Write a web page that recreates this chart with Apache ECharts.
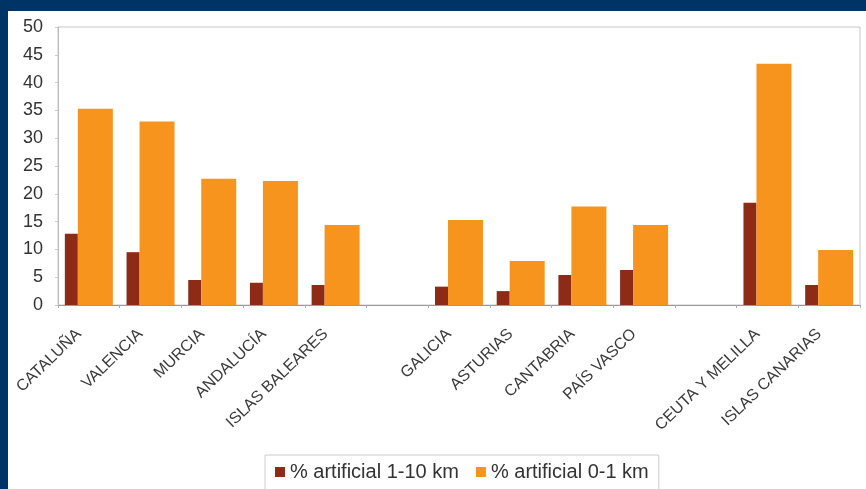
<!DOCTYPE html>
<html>
<head>
<meta charset="utf-8">
<script src="https://cdn.jsdelivr.net/npm/echarts@6/dist/echarts.min.js"></script>
<style>
    html, body { margin: 0; padding: 0; background: #003366; }
    #frame { position: absolute; left: 0; top: 0; width: 866px; height: 489px; background: #003366; }
    #chart { position: absolute; left: 8px; top: 11px; width: 858px; height: 478px; background: #fff; }
</style>
</head>
<body>
<div id="frame"><div id="chart"></div></div>
<script>
/* comunidades (huecos vacios entre grupos) */
var regiones = ['CATALUÑA', 'VALENCIA', 'MURCIA', 'ANDALUCÍA', 'ISLAS BALEARES', '',
    'GALICIA', 'ASTURIAS', 'CANTABRIA', 'PAÍS VASCO', '',
    'CEUTA Y MELILLA', 'ISLAS CANARIAS'];
var artificial1a10 = [12.8, 9.5, 4.5, 4.0, 3.6, null, 3.3, 2.5, 5.4, 6.3, null, 18.4, 3.6];
var artificial0a1 = [35.3, 33.0, 22.7, 22.3, 14.4, null, 15.3, 7.9, 17.7, 14.4, null, 43.4, 9.9];
var nombres = ['% artificial 1-10 km', '% artificial 0-1 km'];

var chart = echarts.init(document.getElementById('chart'));
chart.setOption({
    animation: false,
    textStyle: { fontFamily: 'Liberation Sans, Arial, sans-serif' },
    color: ['#8e2b17', '#f7941e'],
    legend: {
        data: nombres,
        left: 257,
        top: 444,
        padding: [7, 10, 20, 10],
        borderColor: '#cccccc',
        borderWidth: 1,
        itemWidth: 10,
        itemHeight: 10,
        itemGap: 17,
        icon: 'rect',
        textStyle: { fontSize: 20, color: '#333' }
    },
    grid: {
        left: 50,
        right: 6,
        top: 16,
        bottom: 184,
        show: true,
        borderColor: '#c8c8c8',
        borderWidth: 1
    },
    xAxis: {
        type: 'category',
        data: regiones,
        axisLine: { lineStyle: { color: '#999', width: 1 } },
        axisTick: { show: true, length: 3, lineStyle: { color: '#aaa' } },
        axisLabel: {
            interval: 0,
            rotate: 44,
            margin: 17,
            padding: [0, 14, 0, 0],
            fontSize: 16,
            color: '#3a3a3a'
        }
    },
    yAxis: {
        type: 'value',
        min: 0,
        max: 50,
        interval: 5,
        splitLine: { show: false },
        axisLine: { show: true, lineStyle: { color: '#bbb', width: 1 } },
        axisTick: { show: true, length: 3, lineStyle: { color: '#ccc' } },
        axisLabel: { fontSize: 18, color: '#333', margin: 15 }
    },
    series: [
        {
            name: nombres[0],
            type: 'bar',
            barWidth: 13,
            barGap: '0%',
            data: artificial1a10
        },
        {
            name: nombres[1],
            type: 'bar',
            barWidth: 35,
            barGap: '0%',
            data: artificial0a1
        }
    ]
});
</script>
</body>
</html>
